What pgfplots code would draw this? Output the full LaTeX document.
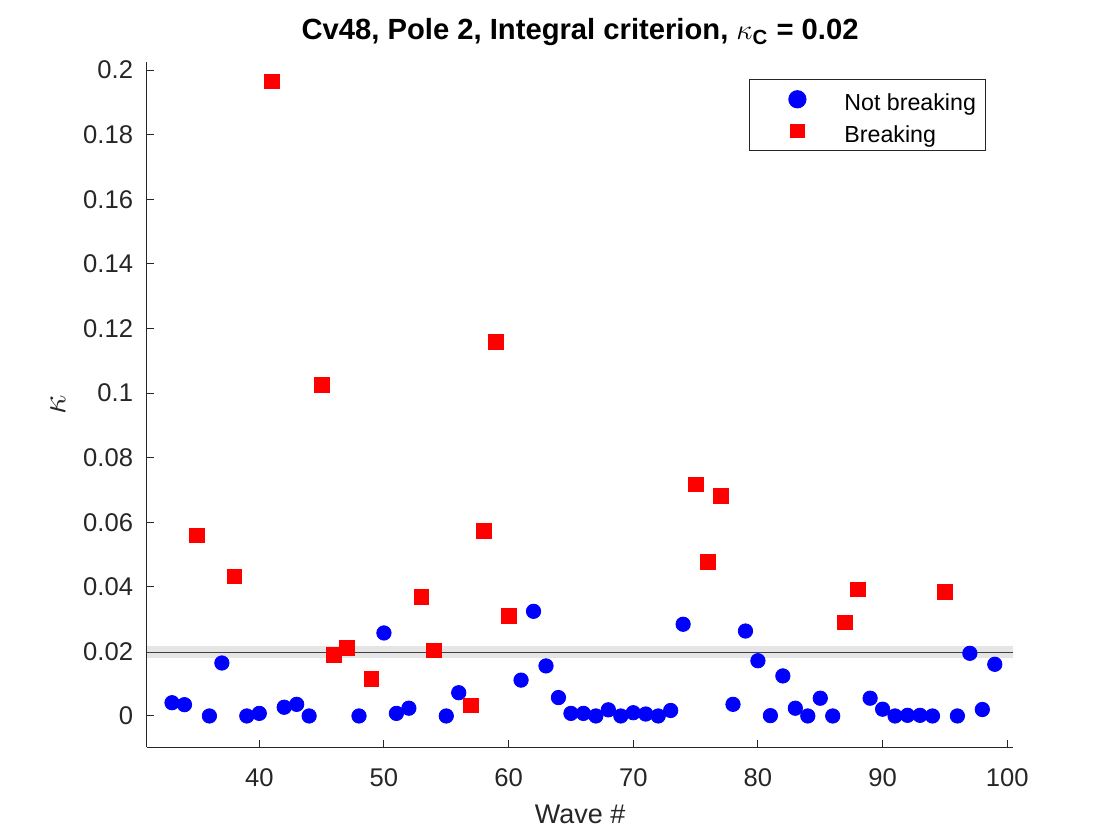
\documentclass[border=0pt]{standalone}
\usepackage{fontspec}
\setmainfont{Liberation Sans}
\usepackage{amsmath}
\usepackage{pgfplots}
\pgfplotsset{compat=1.18}
\definecolor{axgray}{RGB}{38,38,38}
\definecolor{bandgray}{RGB}{229,229,229}
\definecolor{linegray}{RGB}{64,64,64}
\pgfplotsset{
  legA/.style={legend image code/.code={\path[draw=none,fill=none] (-23.8pt,-8.75pt) rectangle (23.5pt,8.75pt); \draw[##1, mark size=4.3pt] plot coordinates {(0pt,0pt)};}},
  legB/.style={legend image code/.code={\path[draw=none,fill=none] (-23.8pt,-8.75pt) rectangle (23.5pt,8.75pt); \draw[##1, mark size=3.3pt] plot coordinates {(0pt,0pt)};}},
}
\pgfplotstableread{
x y
33 0.0041
34 0.0035
36 0.0000
37 0.0164
39 0.0000
40 0.0008
42 0.0027
43 0.0036
44 0.0000
48 0.0000
50 0.0257
51 0.0008
52 0.0024
55 0.0000
56 0.0072
61 0.0111
62 0.0324
63 0.0155
64 0.0057
65 0.0008
66 0.0008
67 0.0000
68 0.0019
69 0.0000
70 0.0010
71 0.0006
72 0.0000
73 0.0017
74 0.0284
78 0.0036
79 0.0263
80 0.0171
81 0.0001
82 0.0124
83 0.0024
84 0.0000
85 0.0055
86 0.0000
89 0.0055
90 0.0021
91 0.0000
92 0.0002
93 0.0002
94 0.0000
96 0.0000
97 0.0194
98 0.0020
99 0.0160
}\notbreaking
\pgfplotstableread{
x y
35 0.0559
38 0.0432
41 0.1965
45 0.1025
46 0.0188
47 0.0211
49 0.0114
53 0.0368
54 0.0203
57 0.0033
58 0.0572
59 0.1157
60 0.0310
75 0.0717
76 0.0477
77 0.0681
87 0.0290
88 0.0392
95 0.0383
}\breaking
\begin{document}
\begin{tikzpicture}
\useasboundingbox (0,0) rectangle (560pt,420pt);
\begin{axis}[
  at={(73.35pt,46.35pt)}, anchor=south west,
  scale only axis, width=433.4pt, height=342.5pt,
  xmin=30.97, xmax=100.5, ymin=-0.0097, ymax=0.2024,
  axis x line*=bottom, axis y line*=left,
  axis line style={color=axgray, line width=0.5pt},
  tick align=inside, major tick length=3.75pt,
  tick style={color=axgray, line width=0.5pt},
  xtick={40,50,60,70,80,90,100},
  xticklabels={40,50,60,70,80,90,100},
  ytick={0,0.02,0.04,0.06,0.08,0.1,0.12,0.14,0.16,0.18,0.2},
  yticklabels={0,0.02,0.04,0.06,0.08,0.1,0.12,0.14,0.16,0.18,0.2},
  ticklabel style={font=\fontsize{12.8pt}{15pt}\selectfont, text=axgray, inner sep=0pt},
  xticklabel style={anchor=north, yshift=-10.5pt},
  yticklabel style={anchor=east, xshift=-6.65pt},
  every axis title shift=0pt,
  title={Cv48, Pole 2, Integral criterion, $\kappa_{\textbf{C}}$ = 0.02},
  title style={font=\fontsize{14.6pt}{17pt}\selectfont\bfseries, at={([yshift=11.15pt]axis description cs:0.5,1)}, anchor=base, inner sep=0pt},
  xlabel={Wave \#},
  xlabel style={font=\fontsize{13.5pt}{16pt}\selectfont, text=axgray, at={([yshift=-38pt]axis description cs:0.5,0)}, anchor=base, inner sep=0pt},
  ylabel={$\kappa$},
  ylabel style={font=\fontsize{18pt}{20pt}\selectfont, text=axgray, at={([xshift=-44.35pt]axis description cs:0,0.5)}, anchor=center, inner sep=0pt},
  legend cell align=left,
  legend style={at={(0.6952,0.9752)}, anchor=north west,
    draw=axgray, line width=0.5pt, fill=white,
    inner xsep=0pt, inner ysep=1pt, row sep=-1.65pt,
    font=\fontsize{11.6pt}{13pt}\selectfont,
    nodes={inner sep=0pt, text height=14.35pt, text depth=3.15pt}},
]
\addplot[fill=bandgray, draw=none, forget plot] coordinates {(30.97,0.0179) (100.5,0.0179) (100.5,0.0218) (30.97,0.0218)} -- cycle;
\addplot[linegray, line width=0.5pt, forget plot] coordinates {(30.97,0.0197) (100.5,0.0197)};
\addplot[only marks, color=blue, mark=*, mark size=3.6pt, mark options={fill=blue, draw=blue}, legA]
  table[x=x, y=y] {\notbreaking};
\addlegendentry{Not breaking\hspace*{4.65pt}}
\addplot[only marks, color=red, mark=square*, mark size=3.7pt, mark options={fill=red, draw=red}, legB]
  table[x=x, y=y] {\breaking};
\addlegendentry{Breaking}
\end{axis}
\end{tikzpicture}
\end{document}
